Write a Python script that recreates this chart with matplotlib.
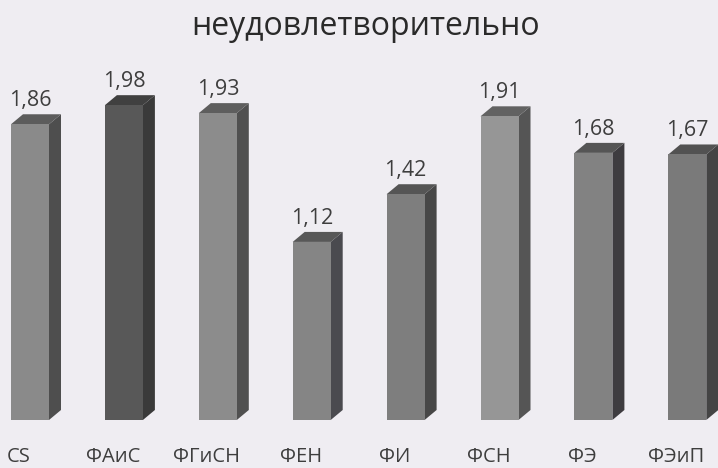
import matplotlib
matplotlib.use("Agg")
import matplotlib.pyplot as plt
from matplotlib.patches import Polygon

categories = ["CS", "ФАиС", "ФГиСН", "ФЕН", "ФИ", "ФСН", "ФЭ", "ФЭиП"]
values = [1.86, 1.98, 1.93, 1.12, 1.42, 1.91, 1.68, 1.67]
front_colors = ["#8a8a8a", "#585858", "#8c8c8c", "#858585", "#7e7e7e", "#969696", "#828282", "#7a7a7a"]
side_colors = ["#4e4e4e", "#3a3a3a", "#505050", "#4a4a4f", "#474747", "#555555", "#3e3c40", "#444444"]
top_colors = ["#5c5c5c", "#404040", "#5e5e5e", "#585858", "#555555", "#626262", "#555555", "#525252"]
title = "неудовлетворительно"

plt.rcParams["font.family"] = ["Open Sans", "DejaVu Sans"]

BG = "#efedf2"
fig = plt.figure(figsize=(7.18, 4.68), dpi=100, facecolor=BG)
ax = fig.add_axes([0, 0, 1, 1], facecolor=BG)

px_x = 93.9   # pixels per category
px_y = 159.0  # pixels per unit
ax.set_xlim(-19 / px_x, -19 / px_x + 718 / px_x)
ax.set_ylim(-48 / px_y, -48 / px_y + 468 / px_y)
ax.axis("off")

shift = 11 / px_x      # 3D offset of the bar fronts
width = 38 / px_x
dx = 12 / px_x
dy = 10 / px_y

xs = [i + shift for i in range(len(categories))]
ax.bar(xs, values, width=width, color=front_colors, zorder=3)

for x, v, sc, tc in zip(xs, values, side_colors, top_colors):
    r = x + width / 2
    l = x - width / 2
    ax.add_patch(Polygon([(r, 0), (r + dx, dy), (r + dx, v + dy), (r, v)],
                         closed=True, facecolor=sc, edgecolor="none", zorder=2))
    ax.add_patch(Polygon([(l, v), (l + dx, v + dy), (r + dx, v + dy), (r, v)],
                         closed=True, facecolor=tc, edgecolor="none", zorder=2))
    ax.text(x, v + 23.5 / px_y, f"{v:.2f}".replace(".", ","), ha="center", va="center",
            fontsize=15.5, color="#3e3e3e")

# category names sit below the baseline, left of the bar fronts
for i, c in enumerate(categories):
    ax.text(i, (468 - 462 - 48) / px_y, c, ha="center", va="baseline",
            fontsize=14.5, color="#3e3e3e")

fig.text(366 / 718, 1 - 35 / 468, title, ha="center", va="baseline", fontsize=23, color="#2a2a2a")

fig.savefig("out.png", dpi=100, facecolor=BG)
